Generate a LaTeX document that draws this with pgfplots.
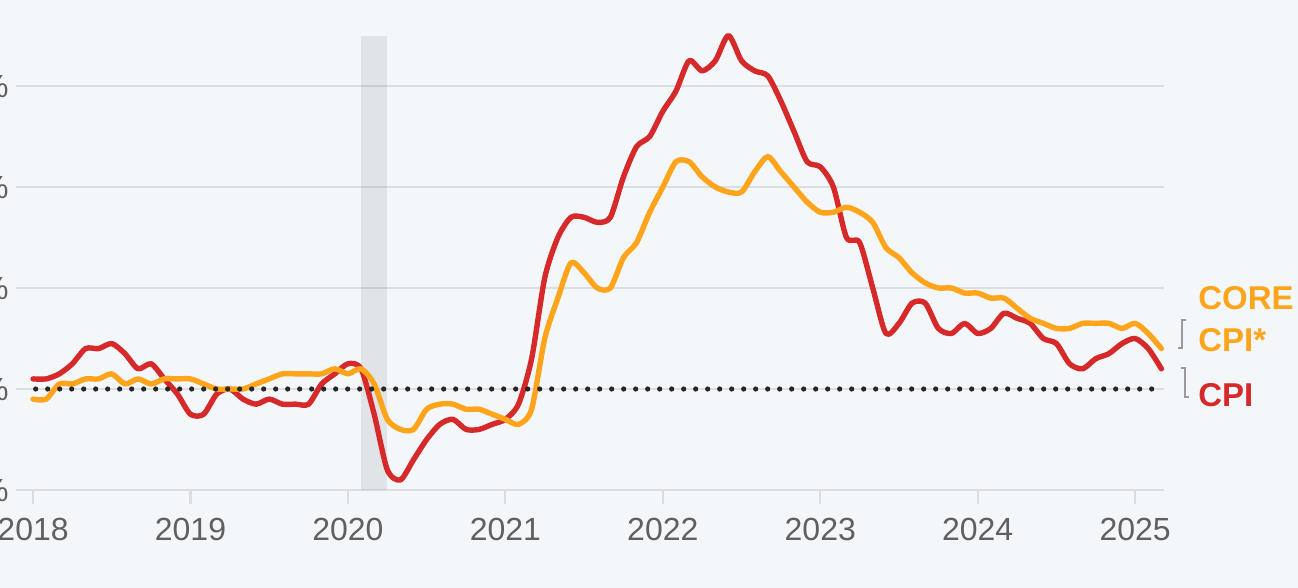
\documentclass[border=0pt]{standalone}
\usepackage{fontspec}
\setmainfont{Liberation Sans}
\usepackage{pgfplots}
\usepackage{pgfplotstable}
\pgfplotsset{compat=1.18}
\definecolor{bg}{HTML}{F4F7FA}
\definecolor{cpired}{HTML}{D62A2A}
\definecolor{coreorg}{HTML}{FFA41B}
\definecolor{gridc}{HTML}{DBDDDF}
\definecolor{tickc}{HTML}{606060}
\definecolor{brk}{HTML}{9A9A9A}

% month index (0 = Jan 2018), CPI y/y, core CPI y/y
\pgfplotstableread{
m cpi core
0 2.2 1.8
1 2.2 1.8
2 2.3 2.1
3 2.5 2.1
4 2.8 2.2
5 2.8 2.2
6 2.9 2.3
7 2.7 2.1
8 2.4 2.2
9 2.5 2.1
10 2.2 2.2
11 1.9 2.2
12 1.5 2.2
13 1.5 2.1
14 1.9 2.0
15 2.0 2.0
16 1.8 2.0
17 1.7 2.1
18 1.8 2.2
19 1.7 2.3
20 1.7 2.3
21 1.7 2.3
22 2.1 2.3
23 2.3 2.4
24 2.5 2.3
25 2.4 2.4
26 1.5 2.1
27 0.4 1.4
28 0.2 1.2
29 0.6 1.2
30 1.0 1.6
31 1.3 1.7
32 1.4 1.7
33 1.2 1.6
34 1.2 1.6
35 1.3 1.5
36 1.4 1.4
37 1.7 1.3
38 2.6 1.6
39 4.2 3.0
40 5.0 3.8
41 5.4 4.5
42 5.4 4.3
43 5.3 4.0
44 5.4 4.0
45 6.2 4.6
46 6.8 4.9
47 7.0 5.5
48 7.5 6.0
49 7.9 6.5
50 8.5 6.5
51 8.3 6.2
52 8.5 6.0
53 9.0 5.9
54 8.5 5.9
55 8.3 6.3
56 8.2 6.6
57 7.7 6.3
58 7.1 6.0
59 6.5 5.7
60 6.4 5.5
61 6.0 5.5
62 5.0 5.6
63 4.9 5.5
64 4.0 5.3
65 3.1 4.8
66 3.3 4.6
67 3.7 4.3
68 3.7 4.1
69 3.2 4.0
70 3.1 4.0
71 3.3 3.9
72 3.1 3.9
73 3.2 3.8
74 3.5 3.8
75 3.4 3.6
76 3.3 3.4
77 3.0 3.3
78 2.9 3.2
79 2.5 3.2
80 2.4 3.3
81 2.6 3.3
82 2.7 3.3
83 2.9 3.2
84 3.0 3.3
85 2.8 3.1
86 2.4 2.8
}\datatable

\begin{document}
\begin{tikzpicture}
\fill[bg] (-8pt,-49pt) rectangle (641pt,245pt);
\begin{axis}[
  scale only axis, width=574pt, height=227.25pt,
  at={(0,0)}, anchor=south west,
  xmin=-1.3, xmax=86.2, ymin=0, ymax=9,
  clip=false,
  axis x line*=bottom, axis y line*=left,
  x axis line style={gridc, line width=1.3pt, -},
  y axis line style={draw=none},
  xtick={0,12,24,36,48,60,72,84},
  xticklabels={2018,2019,2020,2021,2022,2023,2024,2025},
  xtick align=outside, major tick length=7pt,
  x tick style={gridc, line width=1.1pt},
  ytick={0,2,4,6,8},
  yticklabels={0\%,2\%,4\%,6\%,8\%},
  ytick align=inside, y tick style={draw=none},
  ymajorgrids, grid style={gridc, line width=1.3pt},
  xticklabel style={font=\fontsize{16}{16}\selectfont, text=tickc, anchor=north, inner sep=0pt, yshift=-7pt},
  yticklabel style={font=\fontsize{16}{16}\selectfont, text=tickc, anchor=east, inner sep=0pt, xshift=-3.5pt},
]
\addplot[draw=none, fill=black, fill opacity=0.075] coordinates {(25,0) (25,9) (27,9) (27,0)} -- cycle;
\addplot[cpired, line width=2.7pt, smooth, tension=0.45, line join=round, line cap=round] table[x=m, y=cpi] {\datatable};
\addplot[coreorg, line width=2.7pt, smooth, tension=0.45, line join=round, line cap=round] table[x=m, y=core] {\datatable};
\addplot[black!85, line width=2.6pt, dash pattern=on 0pt off 6pt, line cap=round] coordinates {(0.2,2) (86,2)};
\end{axis}
\draw[brk, line width=0.8pt] (585pt,85pt) -- (583pt,85pt) -- (583pt,71pt) -- (581pt,71pt);
\draw[brk, line width=0.8pt] (582.5pt,61pt) -- (584.5pt,61pt) -- (584.5pt,46.5pt) -- (586.5pt,46.5pt);
\node[anchor=base west, inner sep=0pt, text=coreorg, font=\bfseries\fontsize{16.5}{16.5}\selectfont] at (591pt,90pt) {CORE};
\node[anchor=base west, inner sep=0pt, text=coreorg, font=\bfseries\fontsize{16.5}{16.5}\selectfont] at (591pt,69pt) {CPI*};
\node[anchor=base west, inner sep=0pt, text=cpired, font=\bfseries\fontsize{16.5}{16.5}\selectfont] at (591pt,41.5pt) {CPI};
\pgfresetboundingbox
\useasboundingbox (-8pt,-49pt) rectangle (641pt,245pt);
\end{tikzpicture}
\end{document}
